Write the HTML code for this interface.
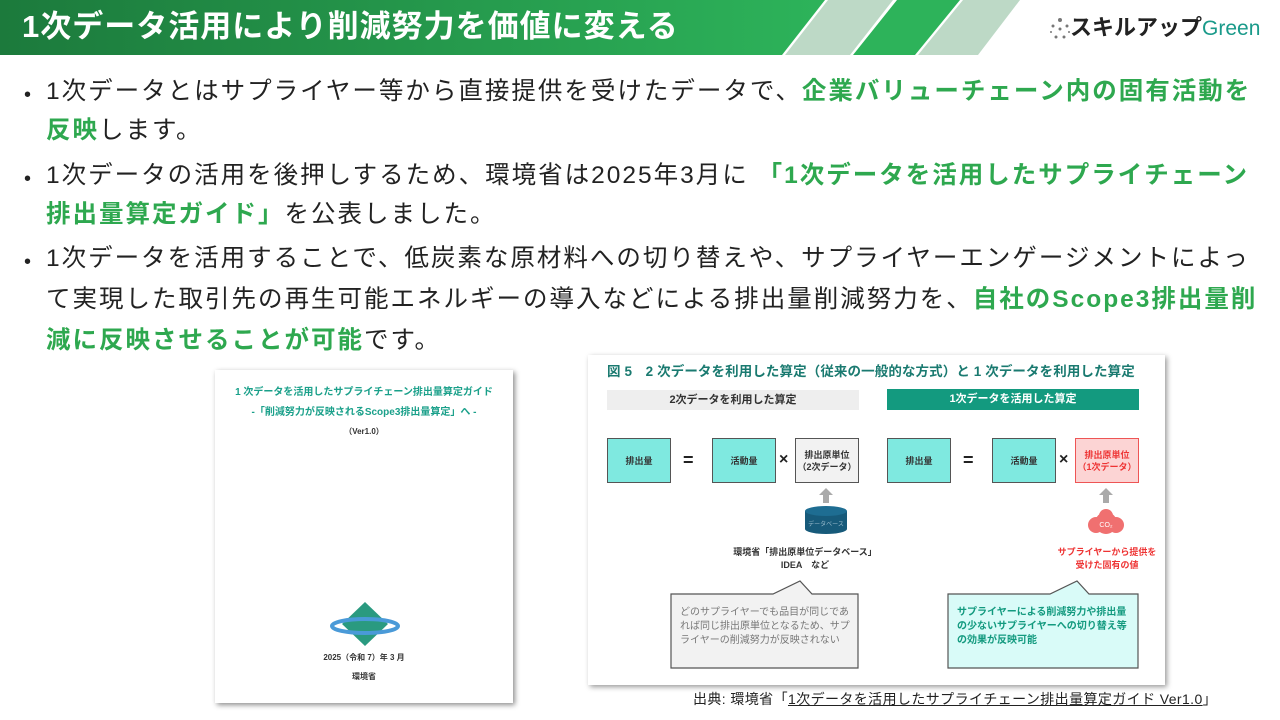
<!DOCTYPE html>
<html><head><meta charset="utf-8">
<style>
*{margin:0;padding:0;box-sizing:border-box}
body{width:1280px;height:720px;overflow:hidden;background:#fff;position:relative;font-family:"Liberation Sans","Noto Sans CJK JP",sans-serif;color:#222}
.abs{position:absolute}
.t{position:absolute;white-space:nowrap}
.g{color:#2ea84f;font-weight:bold}
.line{position:absolute;left:46px;font-size:24.5px;letter-spacing:2px;white-space:nowrap;line-height:30px}
.bul{position:absolute;left:24px;font-size:20px;line-height:30px}
.box{position:absolute;border:1.5px solid #555;background:#7fe9e0;font-size:9px;font-weight:bold;color:#333;display:flex;align-items:center;justify-content:center;text-align:center;line-height:12px}
</style></head><body>
<svg class="abs" style="left:0;top:0" width="1280" height="56">
<defs><linearGradient id="hg" x1="0" x2="1"><stop offset="0" stop-color="#1c7a3c"/><stop offset="1" stop-color="#2db35a"/></linearGradient></defs>
<polygon points="0,0 825,0 782,55 0,55" fill="url(#hg)"/>
<polygon points="828,0 893,0 850,55 785,55" fill="#bdd9c6"/>
<polygon points="897,0 960,0 915,55 853,55" fill="#2db35a"/>
<polygon points="963,0 1020,0 978,55 918,55" fill="#bdd9c6"/>
</svg>
<div class="t" style="left:22px;top:8px;font-size:31px;letter-spacing:1px;font-weight:bold;color:#fff;line-height:38px">1次データ活用により削減努力を価値に変える</div>
<svg class="abs" style="left:1049px;top:17px" width="22" height="26"><g fill="#777"><circle cx="11" cy="3" r="2"/><circle cx="4" cy="9" r="1.5"/><circle cx="18" cy="9" r="1.5"/><circle cx="11" cy="12" r="1.5"/><circle cx="2" cy="15" r="1"/><circle cx="20" cy="15" r="1"/><circle cx="7" cy="20" r="1.5"/><circle cx="15" cy="20" r="1.5"/></g></svg>
<div class="t" style="left:1070px;top:13px;font-size:22px;font-weight:bold;color:#222;line-height:30px">スキルアップ<span style="color:#1a9a8a;font-weight:normal;font-size:21px">Green</span></div>

<div class="bul" style="top:80px">•</div>
<div class="line" style="top:77px">1次データとはサプライヤー等から直接提供を受けたデータで、<span class="g">企業バリューチェーン内の固有活動を</span></div>
<div class="line" style="top:116px"><span class="g">反映</span>します。</div>
<div class="bul" style="top:164px">•</div>
<div class="line" style="top:161px">1次データの活用を後押しするため、環境省は2025年3月に <span class="g">「1次データを活用したサプライチェーン</span></div>
<div class="line" style="top:200px"><span class="g">排出量算定ガイド」</span>を公表しました。</div>
<div class="bul" style="top:247px">•</div>
<div class="line" style="top:244px">1次データを活用することで、低炭素な原材料への切り替えや、サプライヤーエンゲージメントによっ</div>
<div class="line" style="top:285px">て実現した取引先の再生可能エネルギーの導入などによる排出量削減努力を、<span class="g">自社のScope3排出量削</span></div>
<div class="line" style="top:326px"><span class="g">減に反映させることが可能</span>です。</div>

<!-- cover -->
<div class="abs" style="left:215px;top:370px;width:298px;height:333px;background:#fff;box-shadow:2px 2px 5px rgba(0,0,0,.45)"></div>
<div class="t" style="left:215px;width:298px;text-align:center;top:383px;font-size:10px;font-weight:bold;color:#1aa08a">1 次データを活用したサプライチェーン排出量算定ガイド</div>
<div class="t" style="left:215px;width:298px;text-align:center;top:403px;font-size:10px;font-weight:bold;color:#1aa08a">-「削減努力が反映されるScope3排出量算定」へ -</div>
<div class="t" style="left:215px;width:298px;text-align:center;top:426px;font-size:8px;font-weight:bold;color:#333">（Ver1.0）</div>
<svg class="abs" style="left:325px;top:600px" width="80" height="50">
<polygon points="40,2 63,24 40,46 17,24" fill="#2a9a80"/>
<ellipse cx="40" cy="26" rx="33" ry="7" fill="none" stroke="#4a9ad8" stroke-width="4"/>
</svg>
<div class="t" style="left:215px;width:298px;text-align:center;top:652px;font-size:8px;font-weight:bold;color:#333">2025（令和 7）年 3 月</div>
<div class="t" style="left:215px;width:298px;text-align:center;top:671px;font-size:8px;font-weight:bold;color:#333">環境省</div>

<!-- figure -->
<div class="abs" style="left:588px;top:355px;width:577px;height:330px;background:#fff;box-shadow:2px 2px 5px rgba(0,0,0,.4)"></div>
<div class="t" style="left:607px;top:360px;font-size:13.5px;letter-spacing:0.1px;font-weight:bold;color:#1a7a70">図 5　2 次データを利用した算定（従来の一般的な方式）と 1 次データを利用した算定</div>
<div class="abs" style="left:607px;top:390px;width:252px;height:20px;background:#eee;font-size:11px;font-weight:bold;text-align:center;line-height:20px;color:#333">2次データを利用した算定</div>
<div class="abs" style="left:887px;top:389px;width:252px;height:21px;background:#139a7f;font-size:11px;font-weight:bold;text-align:center;line-height:21px;color:#fff">1次データを活用した算定</div>

<div class="box" style="left:607px;top:438px;width:64px;height:45px">排出量</div>
<div class="t" style="left:683px;top:450px;font-size:18px;font-weight:bold">=</div>
<div class="box" style="left:712px;top:438px;width:64px;height:45px">活動量</div>
<div class="t" style="left:779px;top:451px;font-size:16px;font-weight:bold">×</div>
<div class="box" style="left:795px;top:438px;width:64px;height:45px;background:#f2f2f2">排出原単位<br>（2次データ）</div>
<div class="box" style="left:887px;top:438px;width:64px;height:45px">排出量</div>
<div class="t" style="left:963px;top:450px;font-size:18px;font-weight:bold">=</div>
<div class="box" style="left:992px;top:438px;width:64px;height:45px">活動量</div>
<div class="t" style="left:1059px;top:451px;font-size:16px;font-weight:bold">×</div>
<div class="box" style="left:1075px;top:438px;width:64px;height:45px;background:#fcd4d4;border-color:#e55;color:#e33">排出原単位<br>（1次データ）</div>

<svg class="abs" style="left:588px;top:485px" width="577" height="60">
<polygon points="238,3 245,10 241,10 241,18 235,18 235,10 231,10" fill="#aaa"/>
<polygon points="518,3 525,10 521,10 521,18 515,18 515,10 511,10" fill="#aaa"/>
<path d="M217,26 v18 a21,5 0 0 0 42,0 v-18" fill="#175a7a"/>
<ellipse cx="238" cy="26" rx="21" ry="5" fill="#1e6d92"/>
<text x="238" y="41" font-size="6" fill="#9bc" text-anchor="middle" font-family="Noto Sans CJK JP">データベース</text>
<g fill="#f07070"><circle cx="518" cy="38" r="11"/><circle cx="508" cy="40" r="8"/><circle cx="528" cy="40" r="8"/><circle cx="518" cy="31" r="7"/></g>
<text x="518" y="42" font-size="7" fill="#fff" text-anchor="middle">CO₂</text>
</svg>
<div class="t" style="left:727px;width:156px;text-align:center;top:546px;font-size:9px;font-weight:bold;line-height:13px;color:#333">環境省「排出原単位データベース」<br>IDEA　など</div>
<div class="t" style="left:1027px;width:160px;text-align:center;top:546px;font-size:9px;font-weight:bold;line-height:13px;color:#e33">サプライヤーから提供を<br>受けた固有の値</div>

<svg class="abs" style="left:660px;top:575px" width="500" height="100">
<path d="M11,19 H113 L140,6 L152,19 H198 V93 H11 Z" fill="#f2f2f2" stroke="#555" stroke-width="1.2"/>
<path d="M288,19 H390 L417,6 L429,19 H478 V93 H288 Z" fill="#d9fbf8" stroke="#555" stroke-width="1.2"/>
</svg>
<div class="t" style="left:680px;top:606px;font-size:10px;line-height:14px;color:#777">どのサプライヤーでも品目が同じであ<br>れば同じ排出原単位となるため、サプ<br>ライヤーの削減努力が反映されない</div>
<div class="t" style="left:957px;top:606px;font-size:10px;line-height:14px;color:#139a7f;font-weight:bold">サプライヤーによる削減努力や排出量<br>の少ないサプライヤーへの切り替え等<br>の効果が反映可能</div>

<div class="t" style="left:693px;top:689px;font-size:14px;letter-spacing:0.4px;color:#222">出典: 環境省「<span style="text-decoration:underline">1次データを活用したサプライチェーン排出量算定ガイド Ver1.0</span>」</div>
</body></html>
